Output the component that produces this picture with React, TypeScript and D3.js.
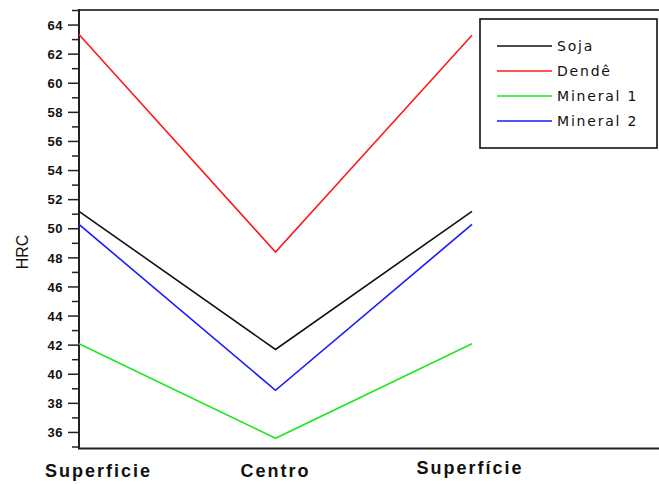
import React from "react";
import * as d3 from "d3";

// Hardness profile across the section (HRC)
const positions = ["Superficie", "Centro", "Superfície"];
const seriesNames = ["Soja", "Dendê", "Mineral 1", "Mineral 2"];
const soja = [51.2, 41.7, 51.2];
const dende = [63.35, 48.4, 63.3];
const mineral1 = [42.1, 35.6, 42.1];
const mineral2 = [50.3, 38.9, 50.3];
const majorTicks = [36, 38, 40, 42, 44, 46, 48, 50, 52, 54, 56, 58, 60, 62, 64];
const minorTicks = [35, 37, 39, 41, 43, 45, 47, 49, 51, 53, 55, 57, 59, 61, 63, 65];

const W = 659;
const H = 484;
const colors = ["#111111", "#ff1a1a", "#22e622", "#1a1aff"];
const seriesValues = [soja, dende, mineral1, mineral2];

export default function App() {
  const x = d3.scalePoint<number>().domain([0, 1, 2]).range([79, 472]);
  const y = d3.scaleLinear().domain([35, 65]).range([447, 10.5]);
  const line = d3
    .line<number>()
    .x((_, i) => x(i) as number)
    .y((v) => y(v));

  const axisX = 79;
  const labelFont = "'Liberation Sans', Arial, sans-serif";

  // x label placement: first label is kept inside the frame
  const xLabelProps = [
    { x: 45, y: 477, anchor: "start" },
    { x: x(1) as number, y: 477, anchor: "middle" },
    { x: (x(2) as number) - 2, y: 474, anchor: "middle" },
  ];

  return (
    <svg
      width={W}
      height={H}
      style={{ position: "absolute", left: 0, top: 0, background: "#fff" }}
    >
      <rect x={0} y={0} width={W} height={H} fill="#fff" />

      {/* frame lines */}
      <line x1={axisX} x2={W} y1={10} y2={10} stroke="#444" strokeWidth={2} />
      <line x1={axisX - 1} x2={W} y1={448.5} y2={448.5} stroke="#222" strokeWidth={2} />
      <line x1={axisX} x2={axisX} y1={9} y2={449} stroke="#222" strokeWidth={2} />

      {/* y ticks */}
      {minorTicks.map((t) => (
        <line key={"m" + t} x1={72} x2={axisX} y1={y(t)} y2={y(t)} stroke="#222" strokeWidth={1.5} />
      ))}
      {majorTicks.map((t) => (
        <g key={"M" + t}>
          <line x1={68} x2={axisX} y1={y(t)} y2={y(t)} stroke="#222" strokeWidth={1.5} />
          <text
            x={63}
            y={y(t)}
            dy="0.36em"
            textAnchor="end"
            fontFamily={labelFont}
            fontWeight="bold"
            fontSize={13}
            letterSpacing={0.5}
            fill="#111"
          >
            {t}
          </text>
        </g>
      ))}

      {/* y axis title */}
      <text
        transform={`translate(28, 252) rotate(-90)`}
        textAnchor="middle"
        fontFamily={labelFont}
        fontSize={16}
        fill="#111"
      >
        HRC
      </text>

      {/* x category labels */}
      {positions.map((p, i) => (
        <text
          key={p + i}
          x={xLabelProps[i].x}
          y={xLabelProps[i].y}
          textAnchor={xLabelProps[i].anchor as any}
          fontFamily={labelFont}
          fontWeight="bold"
          fontSize={18}
          letterSpacing={2}
          fill="#111"
        >
          {p}
        </text>
      ))}

      {/* series lines */}
      {seriesValues.map((vals, i) => (
        <path
          key={seriesNames[i]}
          d={line(vals) as string}
          fill="none"
          stroke={colors[i]}
          strokeWidth={1.6}
        />
      ))}

      {/* legend */}
      <rect x={480} y={19} width={177} height={129} fill="#fff" stroke="#111" strokeWidth={1.6} />
      {seriesNames.map((n, i) => {
        const ly = 46 + i * 25;
        return (
          <g key={"lg" + n}>
            <line x1={497} x2={552} y1={ly} y2={ly} stroke={colors[i]} strokeWidth={1.6} />
            <text
              x={557}
              y={ly}
              dy="0.35em"
              fontFamily="'DejaVu Sans', sans-serif"
              fontSize={14}
              letterSpacing={1.8}
              fill="#111"
            >
              {n}
            </text>
          </g>
        );
      })}
    </svg>
  );
}
